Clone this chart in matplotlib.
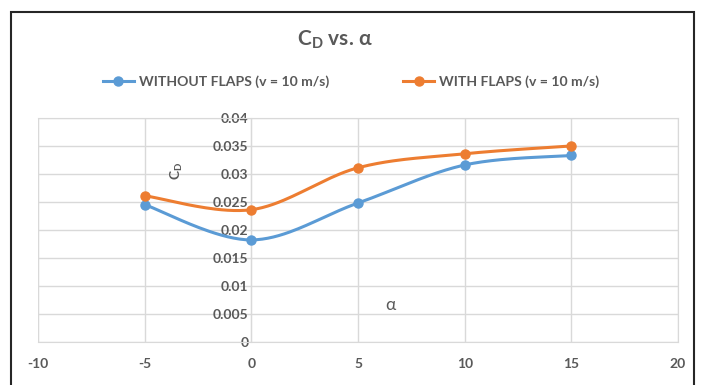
import numpy as np
import matplotlib
matplotlib.use("Agg")
import matplotlib.pyplot as plt
from matplotlib.patches import Rectangle

# data
alpha = [-5, 0, 5, 10, 15]
cd_without = [0.0245, 0.0182, 0.0248, 0.0316, 0.0333]
cd_with = [0.0261, 0.0236, 0.0311, 0.0336, 0.0350]
labels = ["WITHOUT FLAPS (v = 10 m/s)", "WITH FLAPS (v = 10 m/s)"]
xticks = [-10, -5, 0, 5, 10, 15, 20]
yticks = [0, 0.005, 0.01, 0.015, 0.02, 0.025, 0.03, 0.035, 0.04]
ytick_labels = ["0", "0.005", "0.01", "0.015", "0.02", "0.025", "0.03", "0.035", "0.04"]

BLUE = "#5B9BD5"
ORANGE = "#ED7D31"
GRAY = "#595959"
GRID = "#D9D9D9"

plt.rcParams['font.family'] = ['Lato', 'DejaVu Sans']
plt.rcParams['axes.unicode_minus'] = False


def smooth(xs, ys, n=40):
    # Excel-like smoothed line: cubic Bezier through points (Catmull-Rom style)
    x = np.asarray(xs, float)
    y = np.asarray(ys, float)
    px, py = [], []
    for i in range(len(x) - 1):
        x0, y0 = (x[i - 1], y[i - 1]) if i > 0 else (x[i], y[i])
        x3, y3 = (x[i + 2], y[i + 2]) if i + 2 < len(x) else (x[i + 1], y[i + 1])
        c1x = x[i] + (x[i + 1] - x0) / 6
        c1y = y[i] + (y[i + 1] - y0) / 6
        c2x = x[i + 1] - (x3 - x[i]) / 6
        c2y = y[i + 1] - (y3 - y[i]) / 6
        t = np.linspace(0, 1, n)
        bx = (1 - t) ** 3 * x[i] + 3 * (1 - t) ** 2 * t * c1x + 3 * (1 - t) * t ** 2 * c2x + t ** 3 * x[i + 1]
        by = (1 - t) ** 3 * y[i] + 3 * (1 - t) ** 2 * t * c1y + 3 * (1 - t) * t ** 2 * c2y + t ** 3 * y[i + 1]
        px.extend(bx)
        py.extend(by)
    return px, py


fig = plt.figure(figsize=(7.02, 3.85), dpi=100)
ax = fig.add_axes([38 / 702, 1 - 341.7 / 385, 640 / 702, 223.7 / 385])

for ys, col, lab in [(cd_without, BLUE, labels[0]), (cd_with, ORANGE, labels[1])]:
    sx, sy = smooth(alpha, ys)
    ax.plot(sx, sy, color=col, lw=2.2, solid_capstyle='round', zorder=3)
    ax.plot(alpha, ys, 'o', color=col, ms=6.5, zorder=4)
    ax.plot([], [], '-o', color=col, lw=2.2, ms=6.5, label=lab)

ax.set_xlim(-10, 20)
ax.set_ylim(0, 0.04)
ax.set_xticks(xticks)
ax.set_yticks(yticks)
ax.set_yticklabels(ytick_labels)
ax.grid(True, color=GRID, lw=1)
ax.set_axisbelow(True)

for s in ['top', 'right', 'bottom']:
    ax.spines[s].set_color(GRID)
ax.spines['left'].set_position(('data', 0))
ax.spines['left'].set_color(GRID)
ax.tick_params(axis='both', length=0, colors=GRAY, labelsize=10)
ax.tick_params(axis='x', pad=12)
ax.tick_params(axis='y', pad=2)
for t in ax.get_xticklabels() + ax.get_yticklabels():
    t.set_fontweight('bold')

# left edge line of the plot area
ax.axvline(-10, color=GRID, lw=1.5)

ax.text(-3.5, 0.0305, "C$_\\mathregular{D}$", rotation=90, ha='center', va='center',
        fontsize=10, color=GRAY, fontweight='bold')
ax.text(6.5, 0.0065, "α", ha='center', va='center', fontsize=12.5, color=GRAY)

fig.text(335 / 702, 1 - 40 / 385, "C$_\\mathregular{D}$ vs. α", ha='center', va='center',
         fontsize=15, fontweight='bold', color=GRAY)

leg = fig.legend(loc='center', bbox_to_anchor=(351 / 702, 1 - 82 / 385), ncol=2,
                 frameon=False, fontsize=10.1, handlelength=2.2, columnspacing=5.3,
                 handletextpad=0.35)
for t in leg.get_texts():
    t.set_color(GRAY)
    t.set_fontweight('bold')

fig.patches.append(Rectangle((11 / 702, -0.05), 683 / 702, 1.05 - 12 / 385,
                             transform=fig.transFigure, fill=False,
                             edgecolor='#262626', lw=1.5))

fig.savefig("out.png", dpi=100)
